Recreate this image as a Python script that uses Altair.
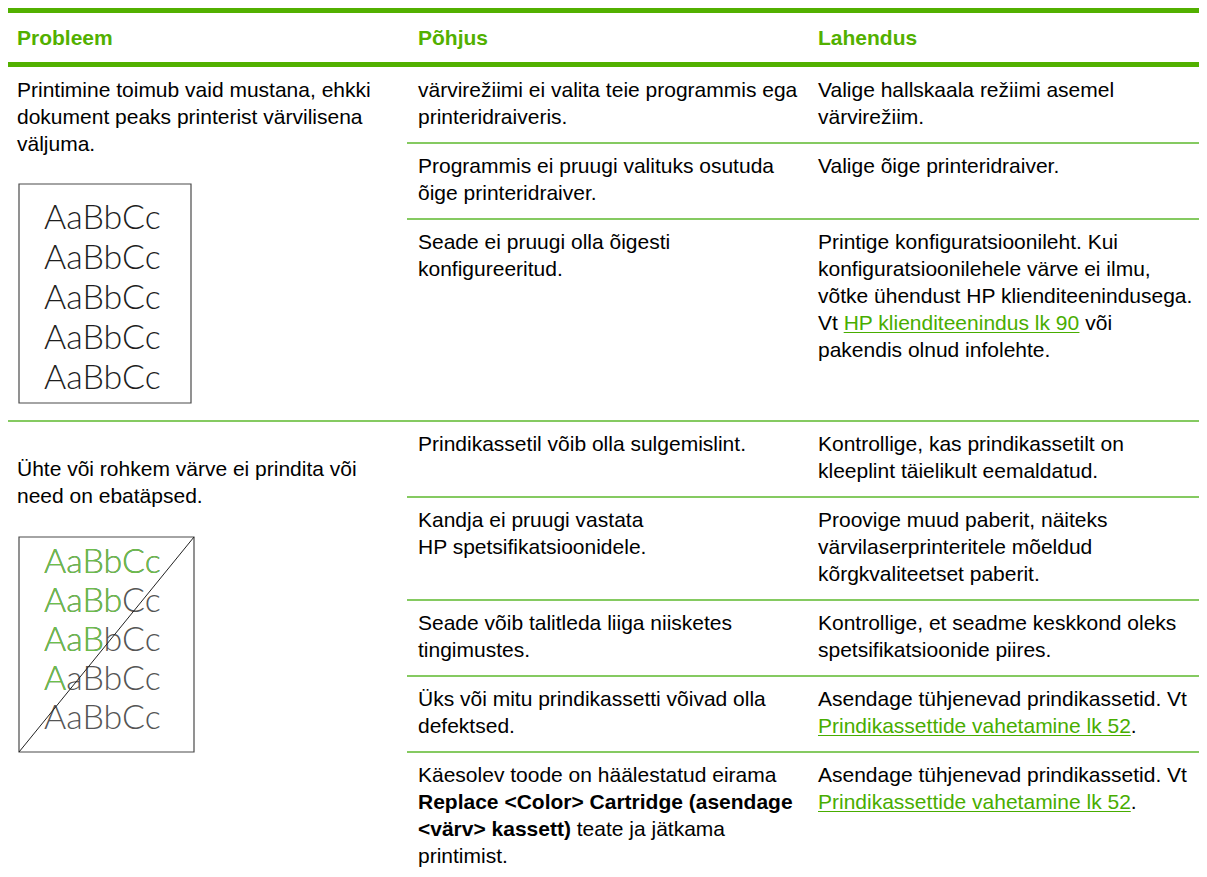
import altair as alt
import pandas as pd

# ---------------- content ----------------
HEADERS = ["Probleem", "Põhjus", "Lahendus"]

PROBLEMS = [
    ["Printimine toimub vaid mustana, ehkki",
     "dokument peaks printerist värvilisena",
     "väljuma."],
    ["Ühte või rohkem värve ei prindita või",
     "need on ebatäpsed."],
]

CAUSES = [
    [
        ["värvirežiimi ei valita teie programmis ega", "printeridraiveris."],
        ["Programmis ei pruugi valituks osutuda", "õige printeridraiver."],
        ["Seade ei pruugi olla õigesti", "konfigureeritud."],
    ],
    [
        ["Prindikassetil võib olla sulgemislint."],
        ["Kandja ei pruugi vastata", "HP spetsifikatsioonidele."],
        ["Seade võib talitleda liiga niisketes", "tingimustes."],
        ["Üks või mitu prindikassetti võivad olla", "defektsed."],
        ["Käesolev toode on häälestatud eirama",
         [("Replace <Color> Cartridge (asendage", "bold")],
         [("<värv> kassett)", "bold"), (" teate ja jätkama", "normal")],
         "printimist."],
    ],
]

SOLUTIONS = [
    [
        ["Valige hallskaala režiimi asemel", "värvirežiim."],
        ["Valige õige printeridraiver."],
        ["Printige konfiguratsioonileht. Kui",
         "konfiguratsioonilehele värve ei ilmu,",
         "võtke ühendust HP klienditeenindusega.",
         [("Vt ", "normal"), ("HP klienditeenindus lk 90", "link"), (" või", "normal")],
         "pakendis olnud infolehte."],
    ],
    [
        ["Kontrollige, kas prindikassetilt on", "kleeplint täielikult eemaldatud."],
        ["Proovige muud paberit, näiteks", "värvilaserprinteritele mõeldud",
         "kõrgkvaliteetset paberit."],
        ["Kontrollige, et seadme keskkond oleks", "spetsifikatsioonide piires."],
        ["Asendage tühjenevad prindikassetid. Vt",
         [("Prindikassettide vahetamine lk 52", "link"), (".", "normal")]],
        ["Asendage tühjenevad prindikassetid. Vt",
         [("Prindikassettide vahetamine lk 52", "link"), (".", "normal")]],
    ],
]

SAMPLE_TEXT = "AaBbCc"
SAMPLE_ROWS = 5
SAMPLE_GREEN_PREFIX = [6, 4, 3, 1, 0]

# ---------------- style / layout ----------------
FONT = "Liberation Sans"
FS = 21
LINE = 27
COL_X = [17, 418, 818]
LEFT, RIGHT, SUB_LEFT = 7, 1199, 407
TOP_RULE_Y, TOP_RULE_W = 9.5, 7
HEAD_BASE = 45
HEAD_RULE_Y, HEAD_RULE_W = 64.5, 5
BODY_TOP = 67
FIRST, AFTER = 30, 19
PROBLEM_FIRST = [30, 55]
BOX_GAP = [33, 34]
BOX_H = [219, 215]
BOX_W = [172, 175]
BOX_X = 19
BOX_TEXT_FIRST = [44.5, 35.5]
BOX_TEXT_STEP = [40, 39]
SAMPLE_X = 44
SAMPLE_FS = 34
ROW_PAD = 18

GREEN = "#52B000"
LINK_GREEN = "#48AD00"
THIN_GREEN = "#5DB82C"
TEXT = "#000000"
S_GREEN = "#6CC04A"
S_GRAY = "#555555"
S_BLACK = "#1E1E1E"
BOX_STROKE = "#4A4A4A"

_N = dict(zip(" ,.()<>0123456789", [278, 278, 278, 333, 333, 584, 584] + [556] * 10))
_N.update(zip("ABCDEFGHIJKLMNOPQRSTUVWXYZ",
              [667, 667, 722, 722, 667, 611, 778, 722, 278, 500, 667, 556, 833, 722, 778, 667,
               778, 722, 667, 611, 722, 667, 944, 667, 667, 611]))
_N.update(zip("abcdefghijklmnopqrstuvwxyz",
              [556, 556, 500, 556, 556, 278, 556, 556, 222, 222, 500, 222, 833, 556, 556, 556,
               556, 333, 500, 278, 556, 500, 722, 500, 500, 500]))
_B = dict(zip(" ,.()<>", [278, 278, 278, 333, 333, 584, 584]))
_B.update(zip("ABCDEFGHIJKLMNOPQRSTUVWXYZ",
              [722, 722, 722, 722, 667, 611, 778, 722, 278, 556, 722, 611, 833, 722, 778, 667,
               778, 722, 667, 611, 722, 667, 944, 667, 667, 611]))
_B.update(zip("abcdefghijklmnopqrstuvwxyz",
              [556, 611, 556, 611, 556, 333, 611, 611, 278, 278, 556, 278, 889, 611, 611, 611,
               611, 389, 556, 333, 611, 556, 778, 556, 556, 500]))
_BASE = {"ä": "a", "õ": "o", "ö": "o", "ü": "u", "ž": "z", "š": "s", "Ü": "U", "Ä": "A", "Õ": "O"}


def text_width(s, bold=False):
    table = _B if bold else _N
    return sum(table.get(_BASE.get(c, c), 556) for c in s) * FS / 1000.0


texts, rules, boxes, diags, samples, greens, unders = [], [], [], [], [], [], []


def place(x, y, line):
    segs = [(line, "normal")] if isinstance(line, str) else line
    cx = x
    for seg, style in segs:
        bold = style == "bold"
        color = LINK_GREEN if style == "link" else TEXT
        lead = seg[: len(seg) - len(seg.lstrip(" "))]
        body = seg.strip(" ")
        bx = cx + text_width(lead, bold)
        texts.append(dict(x=bx, y=y, text=body, weight="bold" if bold else "normal", color=color))
        if style == "link":
            unders.append(dict(x=bx, x2=bx + text_width(body, bold), y=y + 2.5, w=1,
                               color=LINK_GREEN))
        cx += text_width(seg, bold)


# header
rules.append(dict(x=LEFT, x2=RIGHT, y=TOP_RULE_Y, w=TOP_RULE_W, color=GREEN))
rules.append(dict(x=LEFT, x2=RIGHT, y=HEAD_RULE_Y, w=HEAD_RULE_W, color=GREEN))
for i, h in enumerate(HEADERS):
    texts.append(dict(x=COL_X[i], y=HEAD_BASE, text=h, weight="bold", color=GREEN))

top = BODY_TOP
for r in range(len(PROBLEMS)):
    y0 = top + PROBLEM_FIRST[r]
    for i, t in enumerate(PROBLEMS[r]):
        place(COL_X[0], y0 + i * LINE, t)
    btop = y0 + (len(PROBLEMS[r]) - 1) * LINE + BOX_GAP[r]
    bbot = btop + BOX_H[r]
    boxes.append(dict(x=BOX_X, x2=BOX_X + BOX_W[r], y=btop, y2=bbot))
    for k in range(SAMPLE_ROWS):
        sy = btop + BOX_TEXT_FIRST[r] + k * BOX_TEXT_STEP[r]
        if r == 0:
            samples.append(dict(x=SAMPLE_X, y=sy, text=SAMPLE_TEXT, color=S_BLACK))
        else:
            samples.append(dict(x=SAMPLE_X, y=sy, text=SAMPLE_TEXT, color=S_GRAY))
            pre = SAMPLE_TEXT[:SAMPLE_GREEN_PREFIX[k]]
            if pre:
                greens.append(dict(x=SAMPLE_X, y=sy, text=pre, color=S_GREEN))
    if r == 1:
        diags.append(dict(x=BOX_X, y=bbot, x2=BOX_X + BOX_W[r], y2=btop))
    col1_end = bbot + ROW_PAD

    sub_top = top
    pairs = list(zip(CAUSES[r], SOLUTIONS[r]))
    for k, (c, s) in enumerate(pairs):
        n = max(len(c), len(s))
        base = sub_top + FIRST
        for i, t in enumerate(c):
            place(COL_X[1], base + i * LINE, t)
        for i, t in enumerate(s):
            place(COL_X[2], base + i * LINE, t)
        end = base + (n - 1) * LINE + AFTER
        if k < len(pairs) - 1:
            rules.append(dict(x=SUB_LEFT, x2=RIGHT, y=end, w=1.5, color=THIN_GREEN))
        sub_top = end
    row_end = max(col1_end, sub_top)
    if r < len(PROBLEMS) - 1:
        rules.append(dict(x=LEFT, x2=RIGHT, y=row_end, w=1.5, color=THIN_GREEN))
    top = row_end

rules += unders

W, H = 1191, 861
xs = alt.Scale(domain=[8, 8 + W], nice=False, zero=False)
ys = alt.Scale(domain=[8, 8 + H], nice=False, zero=False, reverse=True)
X = alt.X("x:Q", scale=xs, axis=None)
Y = alt.Y("y:Q", scale=ys, axis=None)
COL = alt.Color("color:N", scale=None, legend=None)

df_t = pd.DataFrame(texts)

rule_layer = alt.Chart(pd.DataFrame(rules)).mark_rule().encode(
    x=X, x2="x2:Q", y=Y, size=alt.Size("w:Q", scale=None, legend=None), color=COL)

box_layer = alt.Chart(pd.DataFrame(boxes)).mark_rect(
    filled=False, stroke=BOX_STROKE, strokeWidth=1.2).encode(x=X, x2="x2:Q", y=Y, y2="y2:Q")

normal_layer = alt.Chart(df_t[df_t.weight == "normal"]).mark_text(
    align="left", baseline="alphabetic", font=FONT, fontSize=FS).encode(
    x=X, y=Y, text="text:N", color=COL)

bold_layer = alt.Chart(df_t[df_t.weight == "bold"]).mark_text(
    align="left", baseline="alphabetic", font=FONT, fontSize=FS, fontWeight="bold").encode(
    x=X, y=Y, text="text:N", color=COL)

sample_layer = alt.Chart(pd.DataFrame(samples)).mark_text(
    align="left", baseline="alphabetic", font="Lato", fontWeight=300, fontSize=SAMPLE_FS).encode(
    x=X, y=Y, text="text:N", color=COL)

green_layer = alt.Chart(pd.DataFrame(greens)).mark_text(
    align="left", baseline="alphabetic", font="Lato", fontWeight=300, fontSize=SAMPLE_FS).encode(
    x=X, y=Y, text="text:N", color=COL)

diag_layer = alt.Chart(pd.DataFrame(diags)).mark_rule(color="#222222", strokeWidth=1).encode(
    x=X, y=Y, x2="x2:Q", y2="y2:Q")

chart = alt.layer(
    box_layer, rule_layer, normal_layer, bold_layer, sample_layer, green_layer, diag_layer
).properties(
    width=W, height=H, padding=0, autosize=alt.AutoSizeParams(type="none"), background="white"
).configure_view(stroke=None)

chart.save("out.html", embed_options={"renderer": "svg", "actions": False})
